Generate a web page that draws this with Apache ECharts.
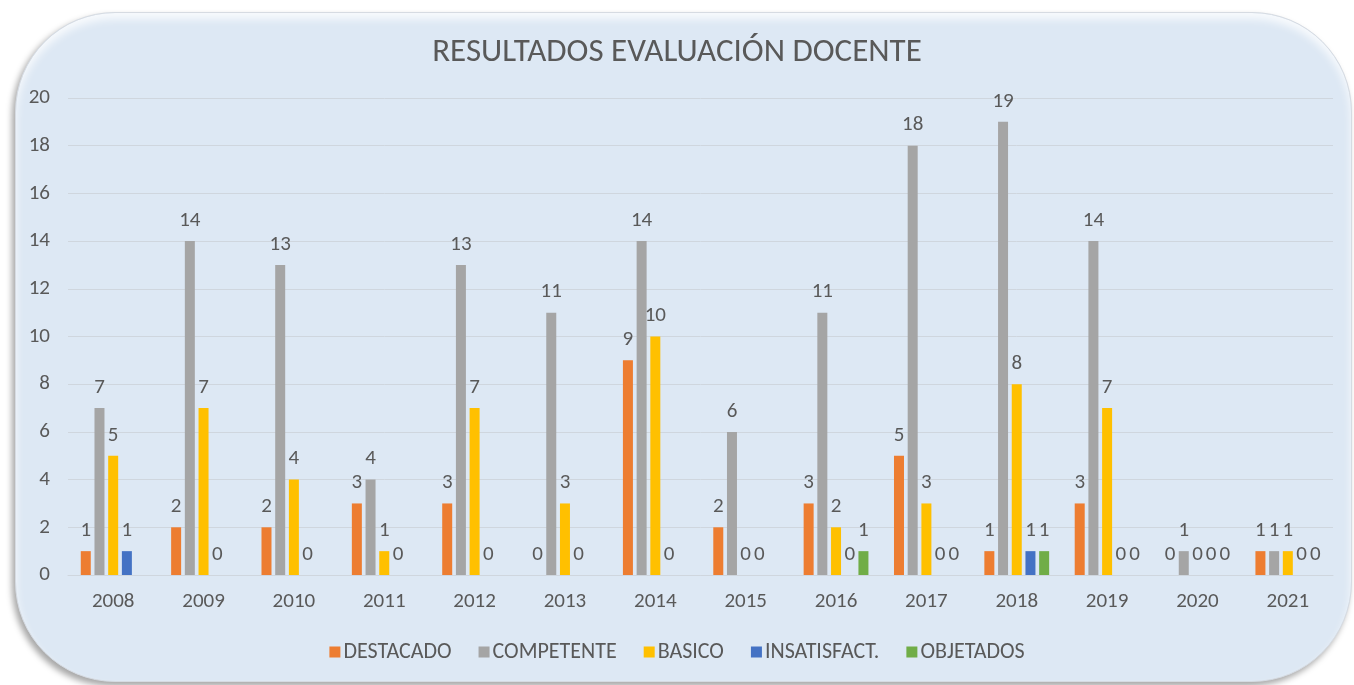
<!DOCTYPE html>
<html>
<head>
<meta charset="utf-8">
<script src="https://cdn.jsdelivr.net/npm/echarts@6/dist/echarts.min.js"></script>
<style>
  html, body { margin: 0; padding: 0; background: #fff; }
  .card {
    position: absolute; left: 15px; top: 12px; width: 1335px; height: 668px;
    border-radius: 100px; background: #dde8f4;
    border: 1px solid #d6dbe2;
    box-shadow: -3px 4px 6px rgba(0,0,0,0.35), inset 0 6px 8px rgba(255,255,255,0.8);
  }
  #chart { position: absolute; left: 0; top: 0; width: 1354px; height: 685px; }
</style>
</head>
<body>
<div class="card"></div>
<div id="chart"></div>
<script>
const years = ['2008', '2009', '2010', '2011', '2012', '2013', '2014', '2015', '2016', '2017', '2018', '2019', '2020', '2021']
const destacado = [1, 2, 2, 3, 3, 0, 9, 2, 3, 5, 1, 3, 0, 1]
const competente = [7, 14, 13, 4, 13, 11, 14, 6, 11, 18, 19, 14, 1, 1]
const basico = [5, 7, 4, 1, 7, 3, 10, 0, 2, 3, 8, 7, 0, 1]
const insatisfact = [1, 0, 0, 0, 0, 0, 0, 0, 0, 0, 1, 0, 0, 0]
const objetados = [null, null, null, null, null, null, null, null, 1, 0, 1, 0, 0, 0]

const seriesList = [
  { name: 'DESTACADO', data: destacado, color: '#ed7d31' },
  { name: 'COMPETENTE', data: competente, color: '#a5a5a5' },
  { name: 'BASICO', data: basico, color: '#ffc000' },
  { name: 'INSATISFACT.', data: insatisfact, color: '#4472c4' },
  { name: 'OBJETADOS', data: objetados, color: '#70ad47' }
]

const font = 'Calibri, Carlito, "Liberation Sans Narrow", "Liberation Sans", sans-serif'
let myChart = echarts.init(document.getElementById('chart'))
let option = {
  animation: false,
  title: {
    text: 'RESULTADOS EVALUACIÓN DOCENTE',
    left: 'center',
    top: 31,
    textStyle: { fontSize: 33, fontWeight: 'normal', color: '#595959', fontFamily: font }
  },
  legend: {
    top: 636,
    left: 'center',
    itemWidth: 11,
    itemHeight: 11,
    itemGap: 27,
    icon: 'rect',
    textStyle: { fontSize: 22, color: '#595959', fontFamily: font, padding: [0, 0, 0, -2] },
    data: seriesList.map(s => s.name)
  },
  grid: { left: 68, right: 21, top: 98, bottom: 110 },
  xAxis: {
    type: 'category',
    data: years,
    axisLine: { lineStyle: { color: '#cfd6de' } },
    axisTick: { show: false },
    axisLabel: { fontSize: 21, color: '#595959', margin: 16, fontFamily: font }
  },
  yAxis: {
    type: 'value',
    min: 0,
    max: 20,
    interval: 2,
    axisLine: { show: false },
    axisTick: { show: false },
    splitLine: { lineStyle: { color: '#cfd6de' } },
    axisLabel: { fontSize: 21, color: '#595959', margin: 18, fontFamily: font }
  },
  series: seriesList.map(s => ({
    name: s.name,
    type: 'bar',
    data: s.data,
    barWidth: 10,
    barGap: '37%',
    itemStyle: { color: s.color },
    label: {
      show: true,
      position: 'top',
      distance: 10,
      fontSize: 21,
      color: '#595959',
      fontFamily: font
    }
  }))
}
myChart.setOption(option)
</script>
</body>
</html>
